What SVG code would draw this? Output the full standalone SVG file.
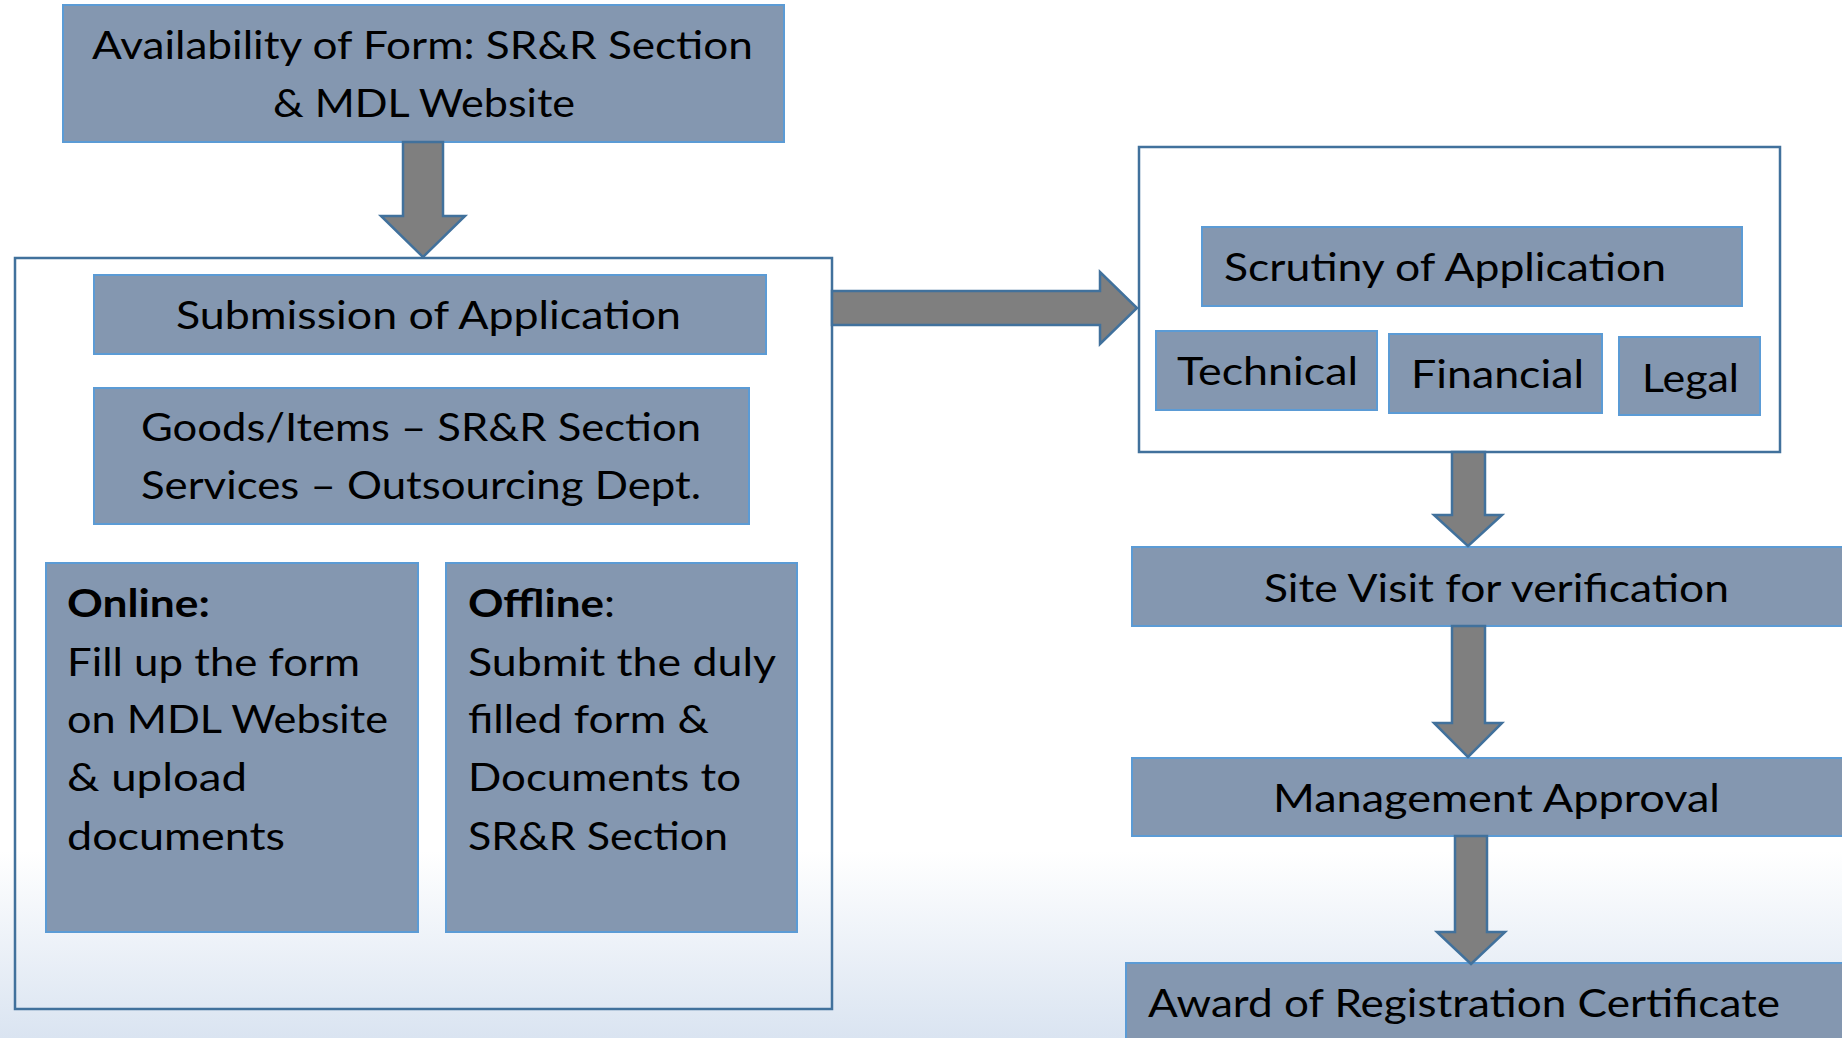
<svg xmlns="http://www.w3.org/2000/svg" width="1842" height="1038" viewBox="0 0 1842 1038">
<defs>
<linearGradient id="bg" x1="0" y1="0" x2="0" y2="1">
<stop offset="0" stop-color="#FFFFFF"/>
<stop offset="0.82" stop-color="#FFFFFF"/>
<stop offset="1" stop-color="#DAE4F1"/>
</linearGradient>
<style>
.box{fill:#8497B0;stroke:#5B9BD5;stroke-width:2}
.frame{fill:none;stroke:#41719C;stroke-width:2.5}
.arrow{fill:#7F7F7F;stroke:#41719C;stroke-width:2.5;stroke-linejoin:miter}
text{font-family:Lato,"Liberation Sans",sans-serif;font-size:39px;fill:#000000}
.b{font-weight:bold}
</style>
</defs>
<rect x="0" y="0" width="1842" height="1038" fill="url(#bg)"/>

<g id="availability">
<rect class="box" x="63" y="5" width="721" height="137"/>
<text x="92" y="59" textLength="661" lengthAdjust="spacingAndGlyphs">Availability of Form: SR&amp;R Section</text>
<text x="273" y="117" textLength="302" lengthAdjust="spacingAndGlyphs">&amp; MDL Website</text>
</g>

<g id="submission-group">
<rect class="frame" x="15" y="258" width="817" height="751"/>
</g>

<g id="submission">
<rect class="box" x="94" y="275" width="672" height="79"/>
<text x="176" y="329" textLength="505" lengthAdjust="spacingAndGlyphs">Submission of Application</text>
</g>

<g id="goods">
<rect class="box" x="94" y="388" width="655" height="136"/>
<text x="141" y="441" textLength="560" lengthAdjust="spacingAndGlyphs">Goods/Items – SR&amp;R Section</text>
<text x="141" y="499" textLength="560" lengthAdjust="spacingAndGlyphs">Services – Outsourcing Dept.</text>
</g>

<g id="online">
<rect class="box" x="46" y="563" width="372" height="369"/>
<text x="67" y="617" class="b" textLength="143" lengthAdjust="spacingAndGlyphs">Online:</text>
<text x="67" y="676" textLength="293" lengthAdjust="spacingAndGlyphs">Fill up the form</text>
<text x="67" y="733" textLength="321" lengthAdjust="spacingAndGlyphs">on MDL Website</text>
<text x="67" y="791" textLength="180" lengthAdjust="spacingAndGlyphs">&amp; upload</text>
<text x="67" y="850" textLength="218" lengthAdjust="spacingAndGlyphs">documents</text>
</g>

<g id="offline">
<rect class="box" x="446" y="563" width="351" height="369"/>
<text x="468" y="617" textLength="147" lengthAdjust="spacingAndGlyphs"><tspan class="b">Offline</tspan>:</text>
<text x="468" y="676" textLength="308" lengthAdjust="spacingAndGlyphs">Submit the duly</text>
<text x="468" y="733" textLength="241" lengthAdjust="spacingAndGlyphs">filled form &amp;</text>
<text x="468" y="791" textLength="273" lengthAdjust="spacingAndGlyphs">Documents to</text>
<text x="468" y="850" textLength="260" lengthAdjust="spacingAndGlyphs">SR&amp;R Section</text>
</g>

<g id="scrutiny-group">
<rect class="frame" x="1139" y="147" width="641" height="305"/>
</g>

<g id="scrutiny">
<rect class="box" x="1202" y="227" width="540" height="79"/>
<text x="1224" y="281" textLength="442" lengthAdjust="spacingAndGlyphs">Scrutiny of Application</text>
</g>

<g id="technical">
<rect class="box" x="1156" y="331" width="221" height="79"/>
<text x="1177" y="385" textLength="181" lengthAdjust="spacingAndGlyphs">Technical</text>
</g>

<g id="financial">
<rect class="box" x="1389" y="334" width="213" height="79"/>
<text x="1411" y="388" textLength="173" lengthAdjust="spacingAndGlyphs">Financial</text>
</g>

<g id="legal">
<rect class="box" x="1619" y="337" width="141" height="78"/>
<text x="1642" y="392" textLength="97" lengthAdjust="spacingAndGlyphs">Legal</text>
</g>

<g id="site-visit">
<rect class="box" x="1132" y="547" width="720" height="79"/>
<text x="1264" y="602" textLength="465" lengthAdjust="spacingAndGlyphs">Site Visit for verification</text>
</g>

<g id="management">
<rect class="box" x="1132" y="758" width="720" height="78"/>
<text x="1273" y="812" textLength="447" lengthAdjust="spacingAndGlyphs">Management Approval</text>
</g>

<g id="award">
<rect class="box" x="1126" y="963" width="726" height="90"/>
<text x="1148" y="1017" textLength="632" lengthAdjust="spacingAndGlyphs">Award of Registration Certificate</text>
</g>

<g id="connectors">
<polygon class="arrow" points="403,142 443,142 443,216 465,216 423,257 381,216 403,216"/>
<polygon class="arrow" points="832,291 1100,291 1100,272 1137,308 1100,344 1100,325 832,325"/>
<polygon class="arrow" points="1452,452 1485,452 1485,515 1502,515 1468,546 1434,515 1452,515"/>
<polygon class="arrow" points="1452,626 1485,626 1485,723 1502,723 1468,757 1434,723 1452,723"/>
<polygon class="arrow" points="1455,836 1487,836 1487,932 1505,932 1471,964 1437,932 1455,932"/>
</g>
</svg>
